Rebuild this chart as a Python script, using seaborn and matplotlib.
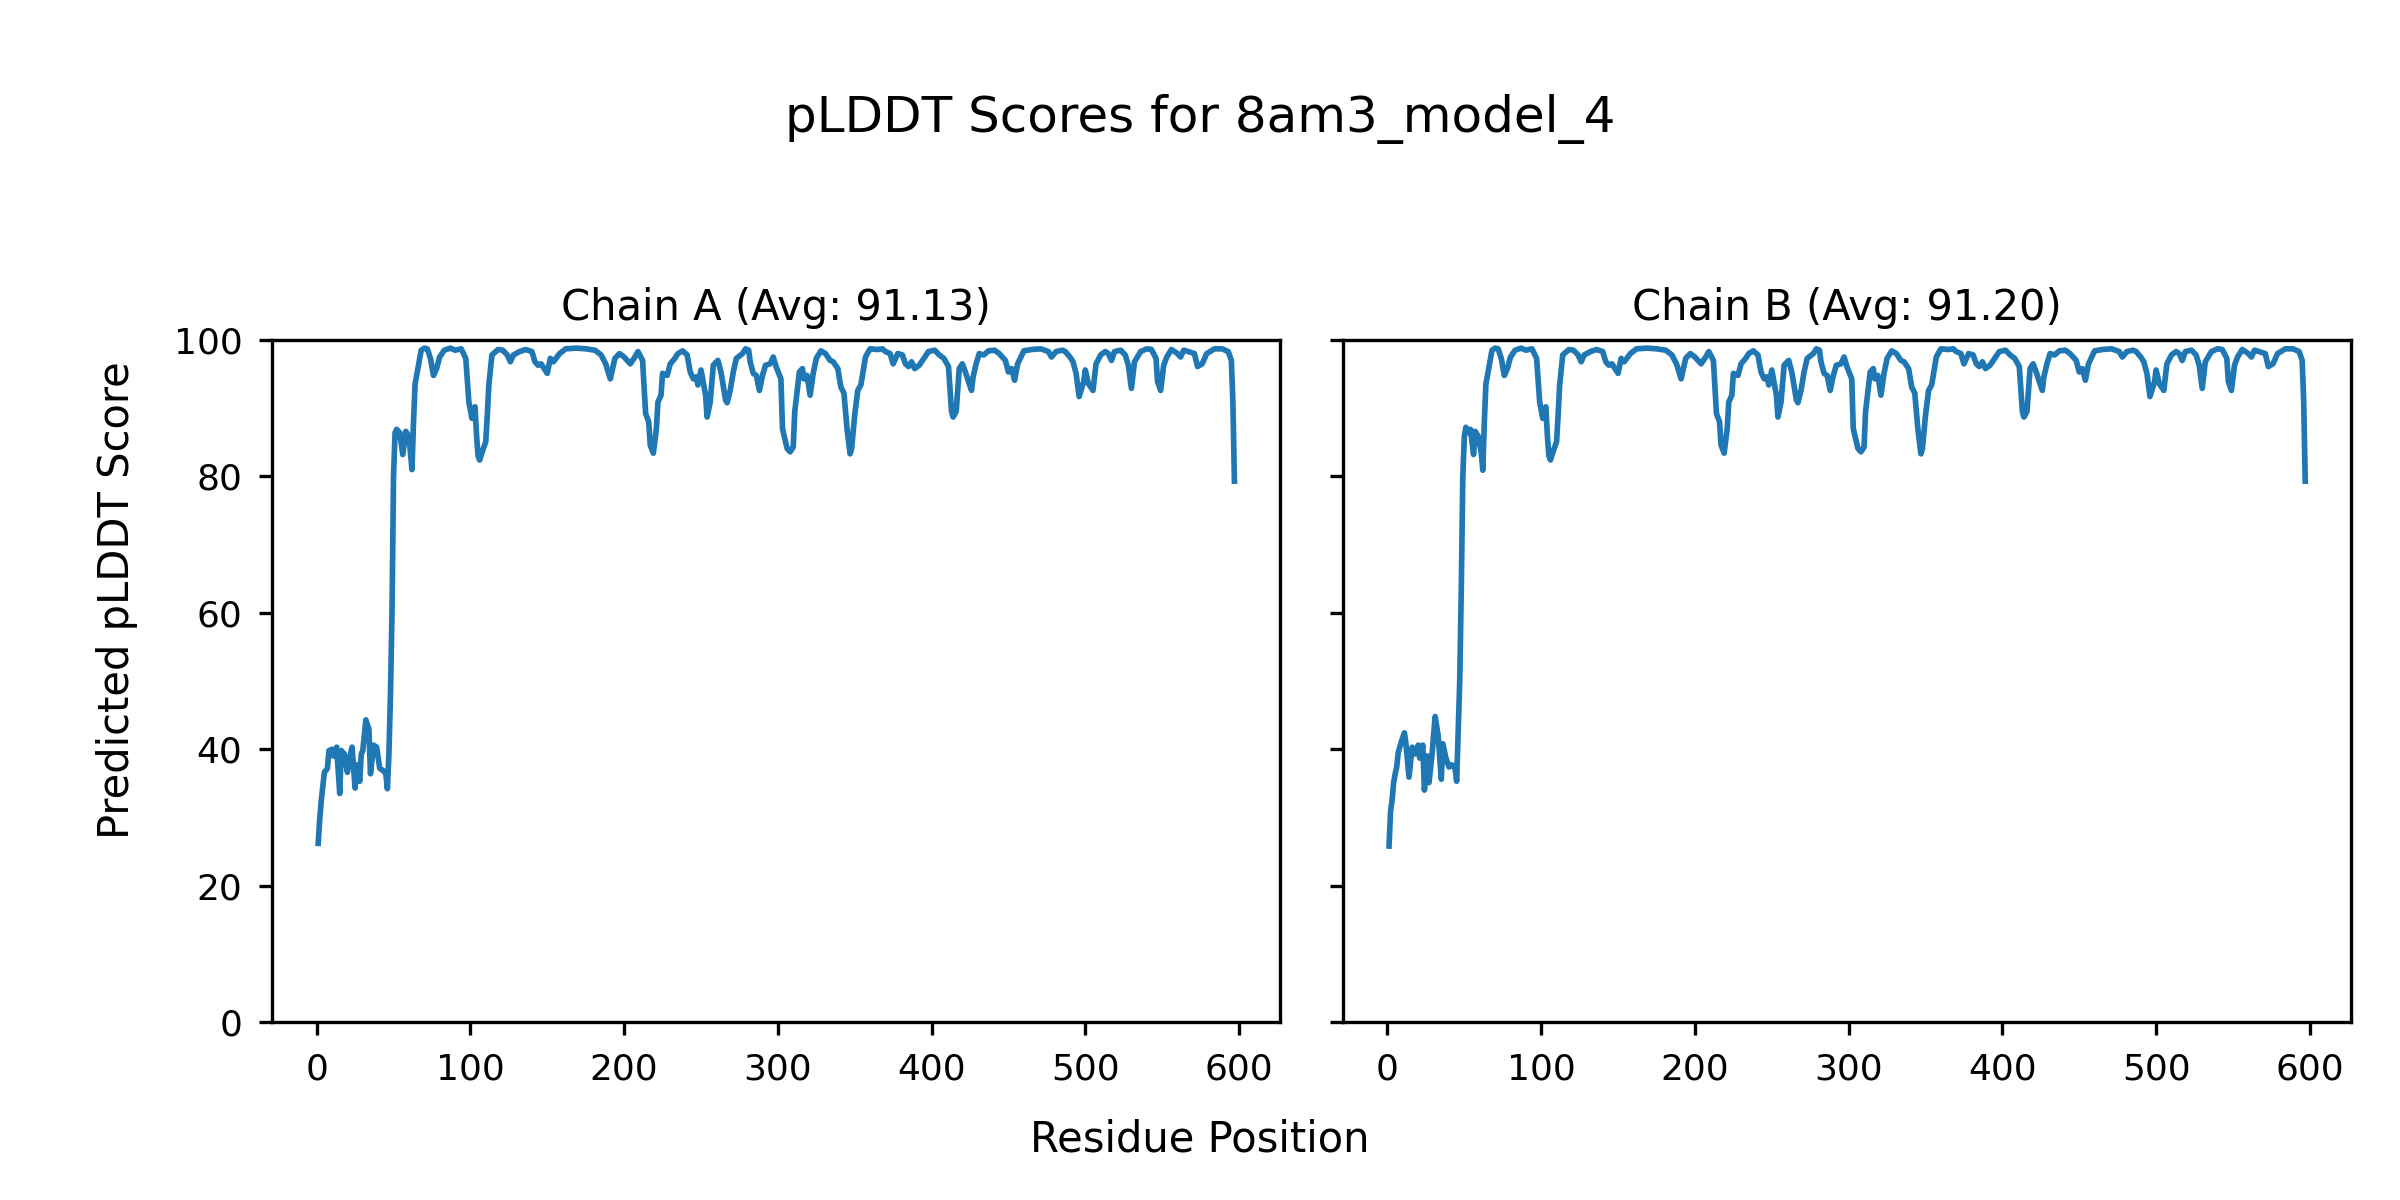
import pandas as pd
import matplotlib
matplotlib.use('Agg')
import matplotlib.pyplot as plt
import seaborn as sns

# residue positions / pLDDT values (line vertices)
chain_a_res = [1, 2, 3, 4, 5, 7, 8, 10, 11, 13, 15, 16, 18, 20, 21, 23, 25, 26, 28, 29,
               30, 32, 34, 35, 37, 39, 41, 43, 45, 46, 47, 48, 49, 50, 51, 52, 54, 56, 58, 60,
               61, 62, 63, 64, 66, 68, 70, 72, 74, 76, 78, 80, 83, 87, 90, 94, 97, 98, 99, 101,
               103, 104, 105, 106, 108, 110, 111, 112, 114, 118, 121, 124, 126, 128, 132, 136, 140, 142, 144, 146,
               148, 150, 152, 154, 158, 162, 169, 175, 181, 185, 188, 191, 194, 197, 200, 204, 207, 209, 212, 214,
               216, 217, 219, 221, 222, 224, 225, 228, 230, 233, 235, 238, 241, 243, 245, 247, 248, 250, 253, 254,
               256, 258, 261, 263, 266, 267, 269, 271, 273, 277, 279, 281, 282, 284, 286, 288, 290, 292, 295, 297,
               299, 302, 303, 306, 308, 310, 311, 314, 316, 317, 319, 321, 323, 325, 328, 331, 334, 336, 339, 341,
               343, 345, 347, 348, 350, 352, 354, 355, 357, 360, 365, 368, 370, 373, 375, 378, 381, 383, 385, 387,
               389, 392, 395, 398, 402, 405, 408, 411, 413, 414, 416, 418, 420, 422, 424, 426, 427, 429, 431, 434,
               437, 441, 444, 448, 450, 452, 454, 456, 460, 465, 471, 476, 478, 481, 485, 487, 490, 492, 494, 496,
               499, 500, 502, 505, 507, 510, 513, 515, 517, 519, 523, 526, 528, 530, 532, 536, 540, 543, 546, 547,
               549, 551, 553, 556, 560, 562, 564, 567, 571, 573, 576, 579, 584, 589, 593, 595, 596, 597]
chain_a_plddt = [26.2, 29.8, 32.5, 34.6, 36.6, 37.2, 39.8, 40.0, 39.0, 40.3, 33.5, 39.8, 39.3, 36.6, 38.2, 40.3, 34.3, 37.7, 35.3, 39.3,
                 39.8, 44.3, 42.9, 36.4, 40.6, 40.3, 37.2, 36.9, 36.4, 34.2, 39.3, 48.0, 60.0, 80.0, 86.4, 86.9, 86.4, 83.2, 86.6, 85.9,
                 83.5, 81.0, 88.0, 93.5, 96.0, 98.5, 98.8, 98.7, 97.3, 94.8, 95.8, 97.5, 98.5, 98.8, 98.5, 98.7, 97.3, 94.0, 90.9, 88.5,
                 90.2, 86.0, 83.0, 82.4, 83.8, 85.1, 89.0, 93.4, 97.8, 98.6, 98.5, 97.8, 96.8, 97.8, 98.3, 98.6, 98.3, 96.8, 96.3, 96.5,
                 95.8, 95.1, 97.3, 96.8, 98.0, 98.7, 98.8, 98.7, 98.5, 97.8, 96.5, 94.3, 97.3, 98.0, 97.5, 96.5, 97.5, 98.3, 97.0, 89.2,
                 88.0, 84.6, 83.4, 87.0, 90.9, 91.9, 95.1, 94.8, 96.5, 97.3, 98.0, 98.4, 97.8, 95.3, 94.3, 94.6, 93.4, 95.6, 91.9, 88.7,
                 90.9, 96.3, 97.0, 95.3, 91.2, 90.8, 92.6, 95.3, 97.3, 98.0, 98.7, 98.5, 96.8, 95.1, 94.8, 92.6, 94.8, 96.3, 96.5, 97.5,
                 96.0, 94.3, 87.0, 84.1, 83.6, 84.3, 89.5, 95.3, 95.8, 94.3, 94.8, 91.9, 95.1, 97.3, 98.4, 98.0, 97.0, 96.8, 95.8, 93.1,
                 92.2, 87.0, 83.3, 84.1, 89.0, 92.6, 93.4, 94.8, 97.5, 98.7, 98.6, 98.7, 98.3, 98.0, 96.5, 98.0, 97.8, 96.5, 96.1, 96.8,
                 95.8, 96.3, 97.3, 98.3, 98.5, 97.8, 97.3, 96.1, 89.5, 88.7, 89.5, 95.8, 96.5, 95.3, 93.9, 92.6, 94.6, 96.5, 98.0, 97.8,
                 98.4, 98.5, 98.0, 97.0, 95.3, 95.8, 94.1, 96.5, 98.4, 98.6, 98.7, 98.3, 97.5, 98.3, 98.5, 98.3, 97.5, 96.8, 95.1, 91.7,
                 93.9, 95.6, 93.6, 92.6, 96.5, 97.8, 98.3, 98.0, 97.0, 98.3, 98.5, 97.8, 96.3, 92.9, 96.8, 98.3, 98.7, 98.6, 97.3, 93.9,
                 92.6, 96.3, 97.5, 98.6, 98.0, 97.5, 98.5, 98.3, 98.0, 96.1, 96.5, 98.0, 98.7, 98.7, 98.3, 97.0, 91.0, 79.3]

# chain B: its own N-terminal region, the folded part reads the same as chain A
chain_b_head_res = [1, 2, 3, 4, 5, 6, 7, 9, 11, 12, 14, 16, 18, 20, 21, 23, 24, 26, 27, 29,
                    31, 33, 35, 36, 38, 40, 42, 44, 45, 46, 47, 48, 49, 50, 51, 53, 54, 56, 57, 59,
                    61, 62, 63, 64, 66]
chain_b_head_plddt = [25.8, 30.9, 32.5, 35.1, 36.4, 37.4, 39.5, 41.1, 42.4, 40.8, 35.9, 40.3, 39.3, 40.6, 38.7, 40.6, 34.0, 39.0, 35.1, 39.3,
                      44.8, 41.9, 35.6, 40.8, 38.7, 37.4, 37.7, 37.2, 35.3, 42.4, 50.0, 63.4, 80.0, 85.9, 87.2, 86.4, 86.9, 83.2, 86.6, 85.9,
                      83.5, 80.9, 88.0, 93.5, 96.0]

chain_b_res = chain_b_head_res + [r for r in chain_a_res if r > 66]
chain_b_plddt = chain_b_head_plddt + [v for r, v in zip(chain_a_res, chain_a_plddt) if r > 66]

chains = ['A', 'B']
averages = [91.13, 91.20]

df = pd.concat([
    pd.DataFrame({'chain': 'A', 'residue': chain_a_res, 'plddt': chain_a_plddt}),
    pd.DataFrame({'chain': 'B', 'residue': chain_b_res, 'plddt': chain_b_plddt}),
])

plt.rcParams.update({
    'font.size': 10.8,
    'axes.linewidth': 1.0,
    'xtick.major.size': 4, 'ytick.major.size': 4,
    'xtick.major.width': 1.0, 'ytick.major.width': 1.0,
    'xtick.major.pad': 5.0, 'ytick.major.pad': 5.0,
})

fig, axes = plt.subplots(1, 2, figsize=(10, 5), dpi=240, sharey=True)
fig.subplots_adjust(left=0.1135, right=0.9796, bottom=0.1483, top=0.7167, wspace=0.0625)

for ax, ch, avg in zip(axes, chains, averages):
    sub = df[df['chain'] == ch]
    sns.lineplot(data=sub, x='residue', y='plddt', ax=ax, color='#1f77b4', linewidth=1.7)
    ax.set_title(f'Chain {ch} (Avg: {avg:.2f})', fontsize=12.5)
    ax.set_xlabel('')
    ax.set_ylabel('')
    ax.set_ylim(0, 100)

fig.suptitle('pLDDT Scores for 8am3_model_4', fontsize=15, y=0.901, va='center')
fig.text(0.5, 0.04, 'Residue Position', ha='center', fontsize=12.5)
fig.text(0.04, 0.5, 'Predicted pLDDT Score', va='center', rotation='vertical', fontsize=12.5)

plt.savefig('out.png', dpi=240)
plt.close()
print('saved out.png')
